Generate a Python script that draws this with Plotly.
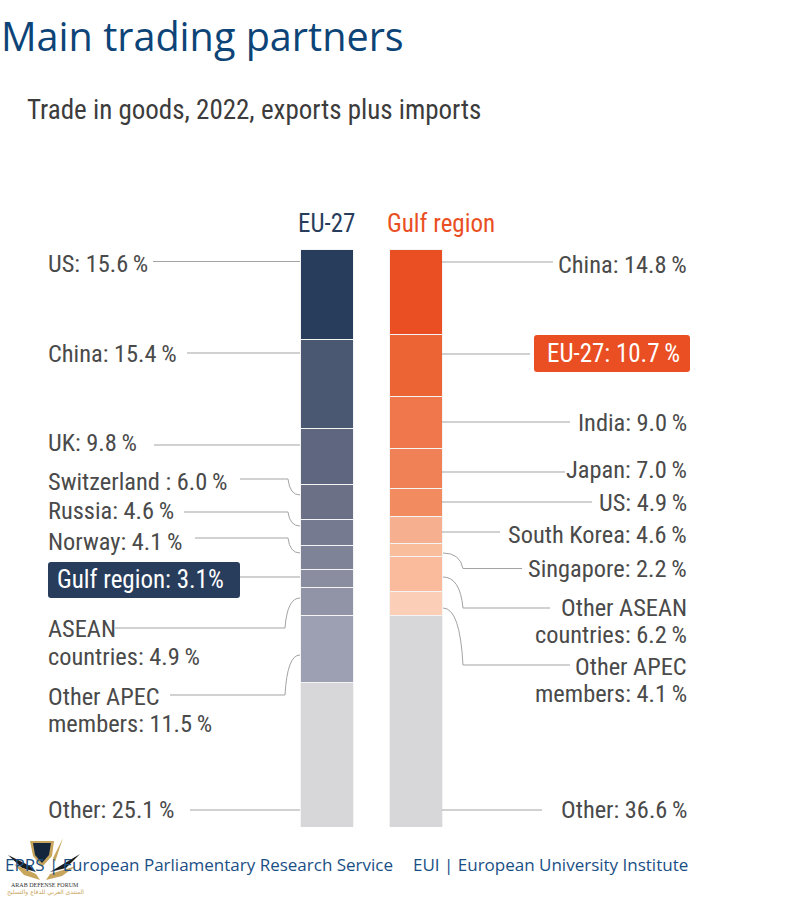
import plotly.graph_objects as go

W, H = 788, 900

# ── Data ────────────────────────────────────────────────
eu_partners = ['US', 'China', 'UK', 'Switzerland', 'Russia', 'Norway', 'Gulf region', 'ASEAN countries', 'Other APEC members', 'Other']
eu_values = [15.6, 15.4, 9.8, 6.0, 4.6, 4.1, 3.1, 4.9, 11.5, 25.1]

gulf_partners = ['China', 'EU-27', 'India', 'Japan', 'US', 'South Korea', 'Singapore', 'Other ASEAN countries', 'Other APEC members', 'Other']
gulf_values = [14.8, 10.7, 9.0, 7.0, 4.9, 4.6, 2.2, 6.2, 4.1, 36.6]

eu_colors = ['#283d5b', '#4b5872', '#5f6780', '#6b7087', '#757a90', '#7f8398', '#8a8ca0', '#9193a7', '#9d9fb2', '#d7d6d8']
gulf_colors = ['#ea4f23', '#ec6434', '#ef774b', '#f08156', '#f28b60', '#f6b08f', '#f9bd9c', '#f9bb9b', '#fbcfb7', '#d7d6d8']

NARROW = 'Roboto Condensed'
GREY = '#4a4a4a'
NAVY = '#283d5b'
ORANGE = '#ea4f23'
LINE = '#a3a3a3'
TOP, BOTTOM = 249, 73


# pixel position -> paper fraction
def px(x):
    return x / W


def py(y):
    return (H - y - BOTTOM) / (H - TOP - BOTTOM)


def text(x, y, s, size=24.4, color=GREY, anchor='left', font=NARROW):
    # annotations sit a little inside their anchor
    shift = {'left': -2.5, 'right': 1.5, 'center': 0}[anchor]
    return dict(x=px(x), y=py(y), xref='paper', yref='paper', text=s, showarrow=False,
                xanchor=anchor, yanchor='middle', align=anchor, xshift=shift,
                font=dict(family=font, size=size, color=color))


def path(d, color=LINE, width=1, fill=None):
    return dict(type='path', path=d, xref='paper', yref='paper', layer='above',
                line=dict(color=color, width=width), fillcolor=fill)


def poly(pts, fill):
    d = 'M' + ' L'.join(f'{px(x):.5f},{py(y):.5f}' for x, y in pts) + ' Z'
    return path(d, color=fill, width=0, fill=fill)


# straight leader, optional curve at the bar end
def leader(x0, y0, x1, y1=None, xk=None):
    d = f'M{px(x0):.5f},{py(y0):.5f} '
    if y1 is None:
        d += f'L{px(x1):.5f},{py(y0):.5f}'
    else:
        d += f'L{px(xk):.5f},{py(y0):.5f} '
        d += f'Q{px(xk + (x1 - xk) * 0.15):.5f},{py(y1):.5f} {px(x1):.5f},{py(y1):.5f}'
    return path(d)


def rounded(x0, y0, x1, y1, fill, r=3):
    d = (f'M{px(x0 + r):.5f},{py(y0):.5f} L{px(x1 - r):.5f},{py(y0):.5f} '
         f'Q{px(x1):.5f},{py(y0):.5f} {px(x1):.5f},{py(y0 + r):.5f} '
         f'L{px(x1):.5f},{py(y1 - r):.5f} Q{px(x1):.5f},{py(y1):.5f} {px(x1 - r):.5f},{py(y1):.5f} '
         f'L{px(x0 + r):.5f},{py(y1):.5f} Q{px(x0):.5f},{py(y1):.5f} {px(x0):.5f},{py(y1 - r):.5f} '
         f'L{px(x0):.5f},{py(y0 + r):.5f} Q{px(x0):.5f},{py(y0):.5f} {px(x0 + r):.5f},{py(y0):.5f} Z')
    return path(d, color=fill, width=0, fill=fill)


# ── Bars ────────────────────────────────────────────────
traces = []
for cat, names, vals, cols in [('EU-27', eu_partners, eu_values, eu_colors),
                               ('Gulf region', gulf_partners, gulf_values, gulf_colors)]:
    for n, v, c in zip(names, vals, cols):
        traces.append(go.Bar(x=[cat], y=[v], name=n, marker=dict(color=c, line=dict(color='#f4f4f4', width=1)),
                             showlegend=False))

fig = go.Figure(traces)

# ── Leaders ─────────────────────────────────────────────
shapes = [
    leader(153, 261.5, 300), leader(187, 353, 300), leader(154, 445, 300),
    leader(240, 479, 300, 495, 288), leader(184, 512, 300, 526, 288), leader(195, 538, 300, 553, 288),
    leader(240, 577, 300),
    leader(115, 628, 300, 598, 285), leader(170, 695, 300, 655, 285),
    leader(190, 810, 300),
    leader(553, 262, 442), leader(530, 354, 442), leader(570, 422, 442), leader(565, 472, 442),
    leader(592, 502, 442), leader(500, 532, 442),
    leader(522, 568.5, 443, 553, 463), leader(550, 608, 443, 577, 463), leader(570, 665, 443, 608, 463),
    leader(542, 810, 442),
    rounded(534, 335, 690, 372, ORANGE),
    rounded(48, 562, 240, 598, NAVY),
]

# forum logo over the footer
GOLD = '#c8a55c'
shapes += [
    poly([(30, 841), (54, 841), (52, 856), (42, 867), (33, 856)], GOLD),
    poly([(33, 843), (51, 843), (49, 855), (42, 863), (35, 855)], '#15263c'),
    poly([(53, 858), (63, 838), (55, 862)], GOLD),
    poly([(8, 855), (30, 866), (36, 872), (22, 868)], '#1b1b1b'),
    poly([(80, 854), (60, 866), (50, 872), (66, 868)], '#1b1b1b'),
    poly([(14, 864), (36, 874), (40, 880), (24, 875)], GOLD),
    poly([(76, 866), (50, 874), (46, 880), (62, 876)], GOLD),
]

# ── Text ────────────────────────────────────────────────
ann = [
    text(1, 35.5, 'Main trading partners', size=39.6, color='#0d4477', font='Open Sans'),
    text(27, 110, 'Trade in goods, 2022, exports plus imports', size=27, color='#3c3c3c'),
    text(326, 223, 'EU-27', size=25, color=NAVY, anchor='center'),
    text(441, 223, 'Gulf region', size=25, color=ORANGE, anchor='center'),

    text(48, 263, 'US: 15.6\u2009%'), text(48, 353, 'China: 15.4\u2009%'), text(48, 442, 'UK: 9.8\u2009%'),
    text(48, 481, 'Switzerland : 6.0\u2009%'), text(48, 511, 'Russia: 4.6\u2009%'), text(48, 541, 'Norway: 4.1\u2009%'),
    text(57, 579, 'Gulf region: 3.1%', size=25, color='white'),
    text(48, 628, 'ASEAN'), text(48, 656, 'countries: 4.9\u2009%'),
    text(48, 696, 'Other APEC'), text(48, 723, 'members: 11.5\u2009%'),
    text(48, 809, 'Other: 25.1\u2009%'),

    text(687, 264, 'China: 14.8\u2009%', anchor='right'),
    text(680, 353, 'EU-27: 10.7\u2009%', size=25, color='white', anchor='right'),
    text(687, 422, 'India: 9.0\u2009%', anchor='right'), text(687, 469, 'Japan: 7.0\u2009%', anchor='right'),
    text(687, 502, 'US: 4.9\u2009%', anchor='right'), text(687, 534, 'South Korea: 4.6\u2009%', anchor='right'),
    text(687, 568, 'Singapore: 2.2\u2009%', anchor='right'),
    text(687, 607, 'Other ASEAN', anchor='right'), text(687, 634, 'countries: 6.2\u2009%', anchor='right'),
    text(687, 666, 'Other APEC', anchor='right'), text(687, 693, 'members: 4.1\u2009%', anchor='right'),
    text(687, 809, 'Other: 36.6\u2009%', anchor='right'),

    text(5, 864, 'EPRS | European Parliamentary Research Service', size=17, color='#1a4f85', font='Open Sans'),
    text(413, 864, 'EUI | European University Institute', size=17, color='#1a4f85', font='Open Sans'),

    text(45, 885, 'ARAB DEFENSE FORUM', size=6, color='#333333', anchor='center', font='Liberation Serif'),
    text(45, 892, 'المنتدى العربي للدفاع والتسليح', size=6, color=GOLD, anchor='center', font='DejaVu Sans'),
]

# 89 px between the bar centres, first bar centred at 327
fig.update_layout(
    barmode='stack',
    bargap=0.405,
    width=W, height=H,
    margin=dict(l=0, r=0, t=TOP, b=BOTTOM),
    plot_bgcolor='white', paper_bgcolor='white',
    xaxis=dict(type='category', range=[-327 / 89, -327 / 89 + W / 89], visible=False, fixedrange=True),
    yaxis=dict(range=[100.1, 0], visible=False, fixedrange=True),
    shapes=shapes,
    annotations=ann,
)

# body margin off so the 788x900 figure fills the window
fig.write_html("out.html", config={'displayModeBar': False}, post_script="document.body.style.margin='0';")
